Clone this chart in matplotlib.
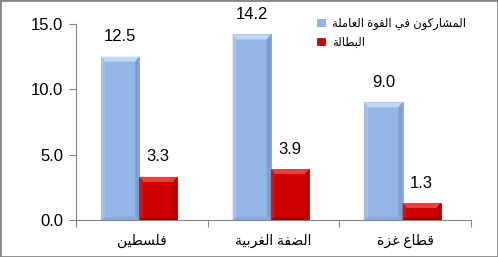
#Labour force participation and unemployment, by region
import matplotlib
matplotlib.use('Agg')
import matplotlib.pyplot as plt
from matplotlib.patches import Rectangle, Polygon
import numpy as np

regions = ['فلسطين', 'الضفة الغربية', 'قطاع غزة']
series_names = ['المشاركون في القوة العاملة', 'البطالة']
participation = [12.5, 14.2, 9.0]
unemployment = [3.3, 3.9, 1.3]
yticks = [0, 5, 10, 15]

blue = '#93B6E6'
red = '#CC0000'
grey = '#868686'
#bevel shades: top, left, right, bottom
blue_bevel = ['#C2D8F5', '#A4C1EA', '#7D9FD0', '#8AA9D6']
red_bevel = ['#E84040', '#D81010', '#A80000', '#A00000']

#Arabic presentation forms: isolated, final, initial, medial
forms = {
    'ا': ('\uFE8D', '\uFE8E', None, None),
    'ب': ('\uFE8F', '\uFE90', '\uFE91', '\uFE92'),
    'ة': ('\uFE93', '\uFE94', None, None),
    'ر': ('\uFEAD', '\uFEAE', None, None),
    'ز': ('\uFEAF', '\uFEB0', None, None),
    'س': ('\uFEB1', '\uFEB2', '\uFEB3', '\uFEB4'),
    'ش': ('\uFEB5', '\uFEB6', '\uFEB7', '\uFEB8'),
    'ض': ('\uFEBD', '\uFEBE', '\uFEBF', '\uFEC0'),
    'ط': ('\uFEC1', '\uFEC2', '\uFEC3', '\uFEC4'),
    'ع': ('\uFEC9', '\uFECA', '\uFECB', '\uFECC'),
    'غ': ('\uFECD', '\uFECE', '\uFECF', '\uFED0'),
    'ف': ('\uFED1', '\uFED2', '\uFED3', '\uFED4'),
    'ق': ('\uFED5', '\uFED6', '\uFED7', '\uFED8'),
    'ك': ('\uFED9', '\uFEDA', '\uFEDB', '\uFEDC'),
    'ل': ('\uFEDD', '\uFEDE', '\uFEDF', '\uFEE0'),
    'م': ('\uFEE1', '\uFEE2', '\uFEE3', '\uFEE4'),
    'ن': ('\uFEE5', '\uFEE6', '\uFEE7', '\uFEE8'),
    'و': ('\uFEED', '\uFEEE', None, None),
    'ي': ('\uFEF1', '\uFEF2', '\uFEF3', '\uFEF4'),
}

def ar(text):
    # join letters and put them in visual (left to right) order
    out = []
    for i, c in enumerate(text):
        if c not in forms:
            out.append(c)
            continue
        prev = text[i-1] if i > 0 else None
        nxt = text[i+1] if i+1 < len(text) else None
        join_prev = prev in forms and forms[prev][2] is not None
        join_next = nxt in forms and forms[c][2] is not None
        iso, fin, ini, med = forms[c]
        if join_prev and join_next:
            out.append(med)
        elif join_prev:
            out.append(fin)
        elif join_next:
            out.append(ini)
        else:
            out.append(iso)
    return ''.join(reversed(out))

plt.rcParams['font.family'] = ['Liberation Sans', 'DejaVu Sans']

fig = plt.figure(figsize=(4.98, 2.57), dpi=100)
ax = fig.add_axes([0.1526, 0.144, 0.7932, 0.7626])

x = np.arange(len(regions))
w = 0.29
b1 = ax.bar(x - 0.165, participation, w, color=blue, edgecolor='#7A9CCB', linewidth=0.5,
            label=ar(series_names[0]), zorder=3)
b2 = ax.bar(x + 0.125, unemployment, w, color=red, edgecolor='#9E0000', linewidth=0.5,
            label=ar(series_names[1]), zorder=3)

ax.set_xlim(-0.5, 2.5)
ax.set_ylim(0, 15)

# bevelled look, 4 px deep
bbox = ax.get_window_extent()
bx = 4 * 3.0 / bbox.width
by = 5 * 15.0 / bbox.height
for bars, shades in [(b1, blue_bevel), (b2, red_bevel)]:
    for r in bars:
        x0, y0 = r.get_x(), r.get_y()
        x1, y1 = x0 + r.get_width(), y0 + r.get_height()
        d = min(by, r.get_height() / 2)
        quads = [
            [(x0, y1), (x1, y1), (x1 - bx, y1 - d), (x0 + bx, y1 - d)],
            [(x0, y0), (x0, y1), (x0 + bx, y1 - d), (x0 + bx, y0 + d * 0.6)],
            [(x1, y0), (x1, y1), (x1 - bx, y1 - d), (x1 - bx, y0 + d * 0.6)],
            [(x0, y0), (x1, y0), (x1 - bx, y0 + d * 0.6), (x0 + bx, y0 + d * 0.6)],
        ]
        for q, c in zip(quads, shades):
            ax.add_patch(Polygon(q, closed=True, facecolor=c, edgecolor='none', zorder=4))

for bars, vals in [(b1, participation), (b2, unemployment)]:
    for r, v in zip(bars, vals):
        ax.annotate('%.1f' % v, (r.get_x() + r.get_width()/2, v), xytext=(0, 9),
                    textcoords='offset points', ha='center', va='bottom', fontsize=12)

ax.set_yticks(yticks)
ax.set_yticklabels(['%.1f' % t for t in yticks], fontsize=12)

# boundaries get tick marks, centres get the labels
ax.set_xticks(np.arange(len(regions) + 1) - 0.5)
ax.set_xticklabels([])
ax.set_xticks(x, minor=True)
ax.set_xticklabels([ar(r) for r in regions], minor=True, fontsize=10)
ax.tick_params(axis='x', which='major', length=5, color=grey, direction='out')
ax.tick_params(axis='x', which='minor', length=0, pad=10)
ax.tick_params(axis='y', length=5, color=grey, direction='out', pad=4)

for s in ['top', 'right']:
    ax.spines[s].set_visible(False)
for s in ['left', 'bottom']:
    ax.spines[s].set_color(grey)
    ax.spines[s].set_linewidth(0.8)

ax.legend(loc='upper left', bbox_to_anchor=(0.628, 0.95), bbox_transform=fig.transFigure,
          frameon=False, fontsize=8.3, handlelength=0.65, handleheight=0.65,
          handletextpad=0.6, labelspacing=0.6, borderaxespad=0)

fig.patches.append(Rectangle((0, 0), 1, 1, transform=fig.transFigure, fill=False,
                             edgecolor=grey, linewidth=2))

fig.savefig('out.png', dpi=100)
